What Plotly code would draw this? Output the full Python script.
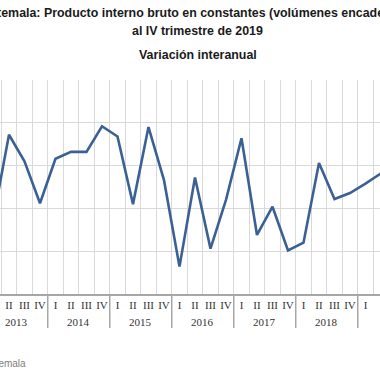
import plotly.graph_objects as go

years = ["2013", "2014", "2015", "2016", "2017", "2018", "2019"]
quarters = ["I", "II", "III", "IV"]
values = [2.89, 3.86, 3.55, 3.06,
          3.58, 3.66, 3.66, 3.96,
          3.84, 3.05, 3.95, 3.33,
          2.32, 3.36, 2.53, 3.10,
          3.82, 2.69, 3.02, 2.51,
          2.60, 3.53, 3.11, 3.18,
          3.29, 3.41, 3.45, 3.50]

title_1 = "Guatemala: Producto interno bruto en constantes (volúmenes encadenados)"
title_2 = "al IV trimestre de 2019"
subtitle = "Variación interanual"
source = "Fuente: Banco de Guatemala"

n_q = len(quarters)
idx = list(range(len(years) * n_q))
qlabels = [quarters[i % n_q] for i in idx]

x_range = [0.42, 0.42 + 380 / 15.5]
PX_TOP, PX_BOT = 80, 294
plot_h = PX_BOT - PX_TOP


def py(px):
    return (PX_BOT - px) / plot_h


fig = go.Figure()
fig.add_trace(go.Scatter(
    x=idx, y=values, mode="lines",
    line=dict(color="#3b6194", width=2.6),
    hoverinfo="skip", showlegend=False,
))

fig.update_layout(
    width=380, height=380,
    margin=dict(l=0, r=0, t=PX_TOP, b=380 - PX_BOT),
    paper_bgcolor="white", plot_bgcolor="white",
    xaxis=dict(
        range=x_range, tickmode="array", tickvals=idx, ticktext=qlabels,
        tickangle=0, showgrid=False, zeroline=False,
        ticks="", ticklen=0, showline=True, linecolor="#a6a6a6", linewidth=1.5,
        tickfont=dict(family="Liberation Serif", size=11, color="#333333"),
        minor=dict(tickmode="linear", tick0=-0.5, dtick=1, showgrid=True,
                   gridcolor="#d9d9d9", gridwidth=1, ticks=""),
    ),
    yaxis=dict(
        range=[2.0, 4.5], dtick=0.5,
        showgrid=True, gridcolor="#d9d9d9", gridwidth=1,
        showticklabels=False, zeroline=False, ticks="", showline=False,
    ),
)

# year group labels and dividers on the category axis
for k, yr in enumerate(years):
    center = k * n_q + (n_q - 1) / 2
    if x_range[0] <= center <= x_range[1]:
        fig.add_annotation(text=yr, xref="x", yref="paper", x=center, y=py(322),
                           xanchor="center", yanchor="middle", showarrow=False,
                           font=dict(family="Liberation Serif", size=11, color="#333333"))
    if k > 0:
        b = k * n_q - 0.5
        fig.add_shape(type="line", xref="x", yref="paper", x0=b, x1=b, y0=0, y1=py(328),
                      line=dict(color="#a6a6a6", width=1.5))

ann_font = dict(family="Liberation Sans", size=12.4, color="#1a1a1a")
fig.add_annotation(text="<b>" + title_1 + "</b>", xref="paper", yref="paper",
                   x=-29 / 380, y=py(13), xanchor="left", yanchor="middle",
                   showarrow=False, font=ann_font)
fig.add_annotation(text="<b>" + title_2 + "</b>", xref="paper", yref="paper",
                   x=197.5 / 380, y=py(31), xanchor="center", yanchor="middle",
                   showarrow=False, font=ann_font)
fig.add_annotation(text="<b>" + subtitle + "</b>", xref="paper", yref="paper",
                   x=197.5 / 380, y=py(55), xanchor="center", yanchor="middle",
                   showarrow=False, font=ann_font)
fig.add_annotation(text=source, xref="paper", yref="paper",
                   x=28 / 380, y=py(363), xanchor="right", yanchor="middle",
                   showarrow=False, font=dict(family="Liberation Sans", size=10, color="#808080"))

fig.write_html("out.html", config={"displayModeBar": False},
               post_script="document.body.style.margin='0';")
